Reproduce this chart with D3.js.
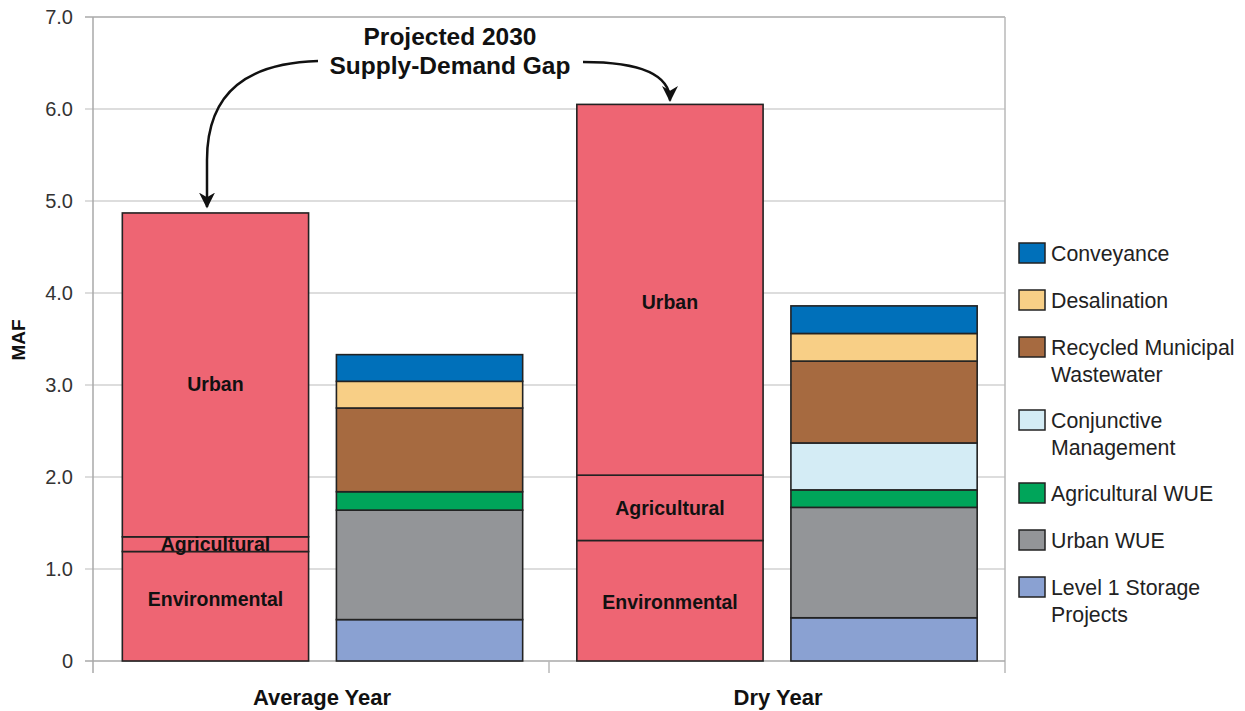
<!DOCTYPE html>
<html><head><meta charset="utf-8">
<script src="https://cdn.jsdelivr.net/npm/d3@7"></script>
<style>body{margin:0;background:#fff;}svg{display:block;font-family:"Liberation Sans",Arial,sans-serif;}</style>
</head><body><svg id="c" width="1245" height="711"></svg>
<script>
// ---- data ----
const categories = ["Average Year", "Dry Year"];
const barTypes = ["Demand", "Supply"];
const demandSegments = ["Environmental", "Agricultural", "Urban"];
const demandAverage = [1.19, 0.16, 3.52];
const demandDry = [1.31, 0.71, 4.03];
const supplySegments = ["Level 1 Storage Projects", "Urban WUE", "Agricultural WUE", "Conjunctive Management", "Recycled Municipal Wastewater", "Desalination", "Conveyance"];
const supplyAverage = [0.45, 1.19, 0.20, 0.00, 0.91, 0.29, 0.29];
const supplyDry = [0.47, 1.20, 0.19, 0.51, 0.89, 0.30, 0.30];
const yTicks = [0, 1, 2, 3, 4, 5, 6, 7];
const yTickLabels = ["0", "1.0", "2.0", "3.0", "4.0", "5.0", "6.0", "7.0"];
const legendOrder = ["Conveyance", "Desalination", "Recycled Municipal Wastewater", "Conjunctive Management", "Agricultural WUE", "Urban WUE", "Level 1 Storage Projects"];
const legendLines = [["Conveyance"], ["Desalination"], ["Recycled Municipal", "Wastewater"], ["Conjunctive", "Management"], ["Agricultural WUE"], ["Urban WUE"], ["Level 1 Storage", "Projects"]];
const annotationLines = ["Projected 2030", "Supply-Demand Gap"];

const colors = {
  "Environmental": "#EE6573", "Agricultural": "#EE6573", "Urban": "#EE6573",
  "Conveyance": "#0070BA", "Desalination": "#F8CF86", "Recycled Municipal Wastewater": "#A66A40",
  "Conjunctive Management": "#D4ECF5", "Agricultural WUE": "#00A55A", "Urban WUE": "#939598",
  "Level 1 Storage Projects": "#8AA1D2"
};

const svg = d3.select("#c");
const L = 93, R = 1005, T = 17, B = 661;
const y = d3.scaleLinear().domain([0, 7]).range([B, T]);
const x0 = d3.scaleBand().domain(categories).range([L, R]).padding(0);
const x1 = d3.scaleBand().domain(barTypes).range([0, x0.bandwidth()]).paddingInner(0.13).paddingOuter(0.13).align(0.5);

// gridlines
svg.append("g").selectAll("line").data(yTicks.filter(d => d > 0)).join("line")
  .attr("x1", L - 8).attr("x2", R).attr("y1", d => y(d)).attr("y2", d => y(d))
  .attr("stroke", d => d === 7 ? "#a8a8a8" : "#d2d2d2").attr("stroke-width", 1.5);
svg.append("line").attr("x1", L - 8).attr("x2", L).attr("y1", y(0)).attr("y2", y(0)).attr("stroke", "#a8a8a8").attr("stroke-width", 1.5);
// frame
svg.append("line").attr("x1", L).attr("x2", L).attr("y1", T).attr("y2", B + 12).attr("stroke", "#a8a8a8").attr("stroke-width", 1.5);
svg.append("line").attr("x1", R).attr("x2", R).attr("y1", T).attr("y2", B + 12).attr("stroke", "#b8b8b8").attr("stroke-width", 1.5);
svg.append("line").attr("x1", L).attr("x2", R).attr("y1", B).attr("y2", B).attr("stroke", "#a8a8a8").attr("stroke-width", 1.5);
svg.append("line").attr("x1", x0("Dry Year")).attr("x2", x0("Dry Year")).attr("y1", B).attr("y2", B + 12).attr("stroke", "#b8b8b8").attr("stroke-width", 1.5);

// y labels
svg.append("g").selectAll("text").data(yTicks).join("text")
  .attr("x", 73).attr("y", d => y(d)).attr("dy", "0.36em").attr("text-anchor", "end")
  .attr("font-size", 20).attr("fill", "#333").text((d, i) => yTickLabels[i]);
svg.append("text").attr("transform", `translate(25,340) rotate(-90)`)
  .attr("text-anchor", "middle").attr("font-size", 19).attr("font-weight", "bold").attr("fill", "#111").text("MAF");

// x labels
svg.append("g").selectAll("text").data(categories).join("text")
  .attr("x", d => x0(d) + x0.bandwidth() / 2 + 1).attr("y", 705).attr("text-anchor", "middle")
  .attr("font-size", 22).attr("font-weight", "bold").attr("fill", "#111").text(d => d);

// stacked bars
function stackRows(names, vals) {
  let acc = 0;
  return names.map((n, i) => { const r = { name: n, y0: acc, y1: acc + vals[i] }; acc += vals[i]; return r; }).filter(r => r.y1 > r.y0);
}
const groups = [
  { cat: "Average Year", type: "Demand", rows: stackRows(demandSegments, demandAverage) },
  { cat: "Average Year", type: "Supply", rows: stackRows(supplySegments, supplyAverage) },
  { cat: "Dry Year", type: "Demand", rows: stackRows(demandSegments, demandDry) },
  { cat: "Dry Year", type: "Supply", rows: stackRows(supplySegments, supplyDry) }
];
groups.forEach(g => {
  const gx = x0(g.cat) + x1(g.type) + (g.cat === "Average Year" ? 1.5 : 0), w = x1.bandwidth();
  const gg = svg.append("g");
  gg.selectAll("rect").data(g.rows).join("rect")
    .attr("x", gx).attr("width", w)
    .attr("y", d => y(d.y1)).attr("height", d => y(d.y0) - y(d.y1))
    .attr("fill", d => colors[d.name]).attr("stroke", "#222").attr("stroke-width", 1.6);
  if (g.type === "Demand") {
    gg.selectAll("text").data(g.rows).join("text")
      .attr("x", gx + w / 2)
      .attr("y", d => {
        if (d.name === "Environmental") return y(d.y0) - (y(d.y0) - y(d.y1)) * (g.cat === "Dry Year" ? 0.49 : 0.57);
        if (d.name === "Urban") return y((d.y0 + d.y1) / 2) + (g.cat === "Dry Year" ? 12 : 9);
        return y((d.y0 + d.y1) / 2);
      })
      .attr("dy", "0.36em").attr("text-anchor", "middle").attr("font-size", 19.5).attr("font-weight", "bold").attr("fill", "#111")
      .text(d => d.name);
  }
});

// legend
const lg = svg.append("g");
let ly = 243;
legendOrder.forEach((name, i) => {
  lg.append("rect").attr("x", 1019).attr("y", ly).attr("width", 26).attr("height", 20)
    .attr("fill", colors[name]).attr("stroke", "#222").attr("stroke-width", 1.5);
  legendLines[i].forEach((t, j) => {
    lg.append("text").attr("x", 1051).attr("y", ly + 10 + j * 27).attr("dy", "0.36em")
      .attr("font-size", 21.3).attr("fill", "#222").text(t);
  });
  ly += legendLines[i].length > 1 ? 73 : 47;
});

// annotation
svg.append("defs").append("marker").attr("id", "ah").attr("viewBox", "0 0 10 10").attr("refX", 9).attr("refY", 5)
  .attr("markerWidth", 16).attr("markerHeight", 16).attr("markerUnits", "userSpaceOnUse").attr("orient", "auto")
  .append("path").attr("d", "M0,0 L10,5 L0,10 L3,5 Z").attr("fill", "#111");
const ann = svg.append("g");
annotationLines.forEach((t, i) => {
  ann.append("text").attr("x", 450).attr("y", 45 + i * 29).attr("text-anchor", "middle")
    .attr("font-size", 24.5).attr("font-weight", "bold").attr("fill", "#111").text(t);
});
const avgTop = y(d3.sum(demandAverage));
const dryTop = y(d3.sum(demandDry));
const avgX = 207;
const dryX = 670;
ann.append("path").attr("d", `M318,61 C250,63 207,90 207,160 L${avgX},${avgTop - 6}`)
  .attr("fill", "none").attr("stroke", "#111").attr("stroke-width", 2.5).attr("marker-end", "url(#ah)");
ann.append("path").attr("d", `M583,62 C630,62 ${dryX},70 ${dryX},${dryTop - 4}`)
  .attr("fill", "none").attr("stroke", "#111").attr("stroke-width", 2.5).attr("marker-end", "url(#ah)");
</script></body></html>
